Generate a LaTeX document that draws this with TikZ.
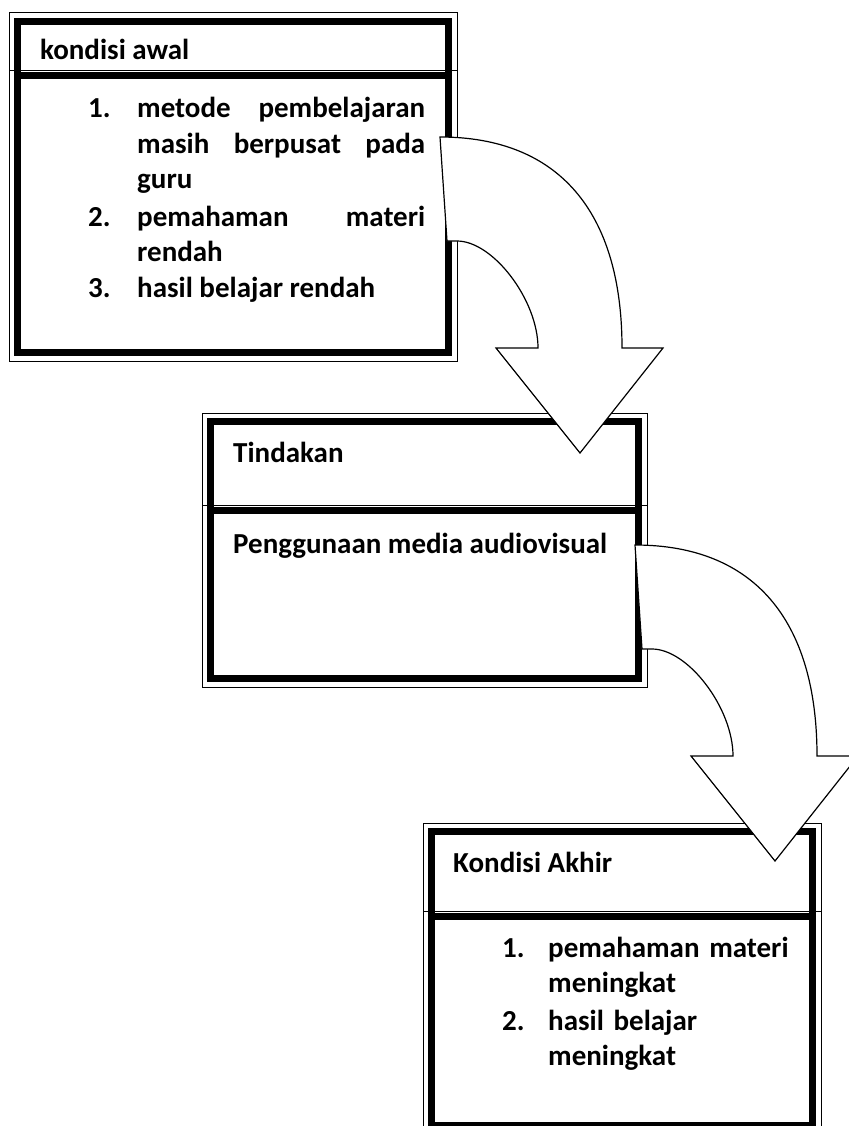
\documentclass[tikz,border=0pt]{standalone}
\usepackage{fontspec}
\setmainfont{Carlito}
\usepackage{tikz}
\usetikzlibrary{
  positioning,
  calc
}
\tikzstyle{garistipis}=[line width=1pt]
\tikzstyle{garistebal}=[line width=7pt]
\tikzstyle{panah}=[draw, fill=white, line width=1.2pt, line join=miter]
\tikzstyle{teks}=[font=\bfseries\fontsize{29}{35.5}\selectfont, inner sep=0pt, anchor=base west]

% kotak bergaris ganda: kiri, atas, kanan, bawah, garis pemisah
\newcommand{\kotakganda}[5]{
  \draw[garistipis] (#1,#2) rectangle (#3,#4);
  \draw[garistebal] (#1+8.5,#2+8.5) rectangle (#3-8.5,#4-8.5);
  \draw[garistipis] (#1,#5) -- (#3,#5);
  \draw[garistebal] (#1+8.5,#5+5.5) -- (#3-8.5,#5+5.5);
}

% panah lengkung ke bawah, digeser sejauh (#1,#2)
\newcommand{\panahlengkung}[2]{
  \begin{scope}[shift={(#1,#2)}]
    \draw[panah] (440,137) .. controls (558,137) and (622,211) .. (622,348)
      -- (663,348) -- (580,453) -- (496,348) -- (538,348)
      .. controls (538,300) and (493,241) .. (457,241) -- (447,241) -- cycle;
  \end{scope}
}

\begin{document}
\begin{tikzpicture}[x=1pt, y=-1pt]
      \useasboundingbox (0,0) rectangle (848,1126);

      % kotak-kotak
      \kotakganda{9}{13}{457}{361}{70.5}
      \kotakganda{202}{413}{647}{687}{505}
      \kotakganda{423}{823}{821}{1134}{911}

      % kondisi awal
      \node (awal) at (40,60) [teks]{kondisi awal};
      \node (no1a) at (88,118) [teks]{1.};
      \node (isi1a) at (137,118) [teks, text width=288pt, align=justify]{metode pembelajaran\linebreak masih berpusat pada\linebreak guru};
      \node (no2a) at (88,226) [teks]{2.};
      \node (isi2a) at (137,226) [teks, text width=288pt, align=justify]{pemahaman materi\linebreak rendah};
      \node (no3a) at (88,297) [teks]{3.};
      \node (isi3a) at (137,297) [teks]{hasil belajar rendah};

      % tindakan
      \node (tindakan) at (233,462) [teks]{Tindakan};
      \node (media) at (233,553) [teks]{Penggunaan media audiovisual};

      % kondisi akhir
      \node (akhir) at (453,872) [teks]{Kondisi Akhir};
      \node (no1b) at (502,957) [teks]{1.};
      \node (isi1b) at (548,957) [teks, text width=270pt, align=left]{pemahaman materi\\ meningkat};
      \node (no2b) at (502,1030) [teks]{2.};
      \node (isi2b) at (548,1030) [teks, text width=270pt, align=left]{hasil belajar\\ meningkat};

      % panah
      \panahlengkung{0}{0}
      \panahlengkung{195}{408}
\end{tikzpicture}
\end{document}
